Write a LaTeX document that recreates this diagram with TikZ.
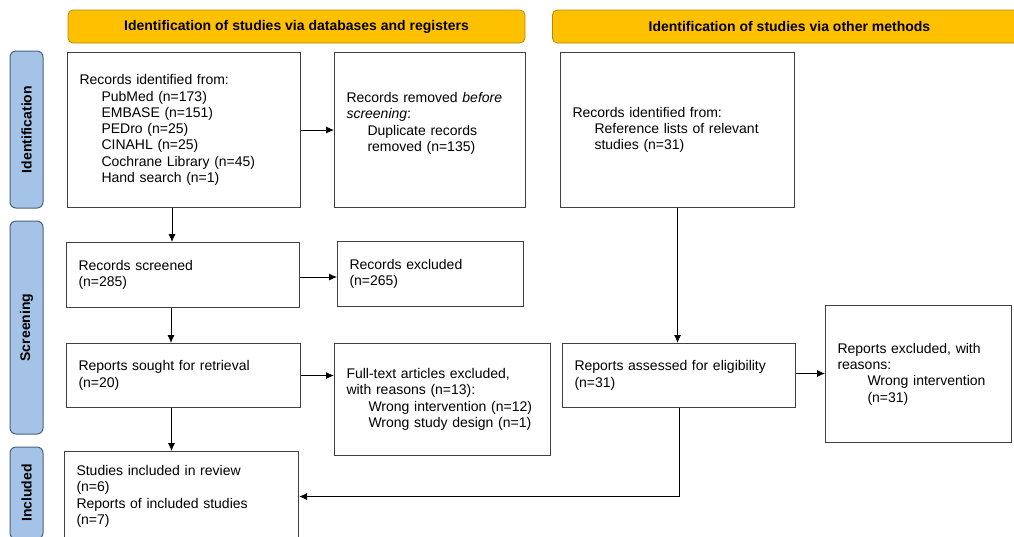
\documentclass[tikz,border=0pt]{standalone}
\usepackage{fontspec}
\setmainfont{Liberation Sans}
\usetikzlibrary{arrows.meta,calc}

\definecolor{hdrfill}{HTML}{FFC000}
\definecolor{hdrline}{HTML}{B08A10}
\definecolor{sidefill}{HTML}{A4C3E6}
\definecolor{sideline}{HTML}{4A6280}
\definecolor{boxline}{HTML}{404040}

\tikzset{
  box/.style={draw=boxline, line width=1pt, rectangle, anchor=north west, align=left,
    inner xsep=12pt, inner ysep=0pt, font=\fontsize{14}{16.3}\selectfont},
  hdr/.style={draw=hdrline, fill=hdrfill, line width=0.8pt, rounded corners=5pt,
    minimum height=33pt, font=\bfseries\fontsize{14}{16}\selectfont},
  side/.style={draw=sideline, fill=sidefill, line width=1pt, rounded corners=6pt,
    rotate=90, minimum height=33pt, font=\bfseries\fontsize{14}{16}\selectfont},
  arr/.style={-{Latex[length=8pt,width=7pt]}, line width=0.9pt, draw=black}
}

\begin{document}
\begin{tikzpicture}[x=1pt,y=-1pt]
\useasboundingbox (0,0) rectangle (1014,536);
\clip (0,0) rectangle (1014,536);

% headers and phase labels
\node[hdr, minimum width=457pt] (hdrdb) at (296.5,26.5) {Identification of studies via databases and registers};
\node[hdr, minimum width=474pt, anchor=west] (hdrother) at (552,26.5) {Identification of studies via other methods};

\node[side, minimum width=157pt] (phid) at (26.5,129.5) {Identification};
\node[side, minimum width=213pt] (phscr) at (26.5,327.5) {Screening};
\node[side, minimum width=92pt] (phinc) at (26.5,493) {Included};

% databases and registers
\node[box, text width=209pt, minimum height=155pt] (ident) at (67,52) {Records identified from:\\
  \hspace*{22pt}PubMed (n=173)\\
  \hspace*{22pt}EMBASE (n=151)\\
  \hspace*{22pt}PEDro (n=25)\\
  \hspace*{22pt}CINAHL (n=25)\\
  \hspace*{22pt}Cochrane Library (n=45)\\
  \hspace*{22pt}Hand search (n=1)};
\node[box, text width=167pt, minimum height=155pt] (removed) at (334,52) {Records removed \textit{before}\\
  \textit{screening}:\\
  \hspace*{21pt}Duplicate records\\
  \hspace*{21pt}removed (n=135)\\ \mbox{}};

\node[box, text width=209pt, minimum height=65pt] (screened) at (66,242) {Records screened\\ (n=285)};
\node[box, text width=162pt, minimum height=65pt] (excluded) at (337,241) {Records excluded\\ (n=265)};

\node[box, text width=210pt, minimum height=64pt] (sought) at (66,343) {Reports sought for retrieval\\ (n=20)};
\node[box, text width=192pt, minimum height=112pt] (fulltext) at (334,343) {Full-text articles excluded,\\
  with reasons (n=13):\\
  \hspace*{22pt}Wrong intervention (n=12)\\
  \hspace*{22pt}Wrong study design (n=1)};

\node[box, text width=210pt, minimum height=90pt] (included) at (64,451) {Studies included in review\\
  (n=6)\\
  Reports of included studies\\
  (n=7)};

% other methods
\node[box, text width=210pt, minimum height=155pt] (other) at (560,52) {Records identified from:\\
  \hspace*{22pt}Reference lists of relevant\\
  \hspace*{22pt}studies (n=31)};
\node[box, text width=209pt, minimum height=64pt] (assessed) at (562,343) {Reports assessed for eligibility\\ (n=31)};
\node[box, text width=162pt, minimum height=137pt] (otherexcl) at (825,305) {Reports excluded, with\\
  reasons:\\
  \hspace*{30pt}Wrong intervention\\
  \hspace*{30pt}(n=31)};

% arrows
\draw[arr] (ident.east) -- (removed.west);
\draw[arr] ([xshift=-12pt]ident.south) -- ([xshift=-12pt]ident.south |- screened.north);
\draw[arr] ([yshift=-2pt]screened.east) -- ([yshift=-2pt]screened.east -| excluded.west);
\draw[arr] ([xshift=-12pt]screened.south) -- ([xshift=-12pt]screened.south |- sought.north);
\draw[arr] (sought.east) -- (sought.east -| fulltext.west);
\draw[arr] ([xshift=-12pt]sought.south) -- ([xshift=-12pt]sought.south |- included.north);
\draw[arr] (other.south) -- (other.south |- assessed.north);
\draw[arr] ([yshift=2pt]assessed.east) -- ([yshift=2pt]assessed.east -| otherexcl.west);
\draw[arr] (assessed.south) |- (included.east);
\end{tikzpicture}
\end{document}
